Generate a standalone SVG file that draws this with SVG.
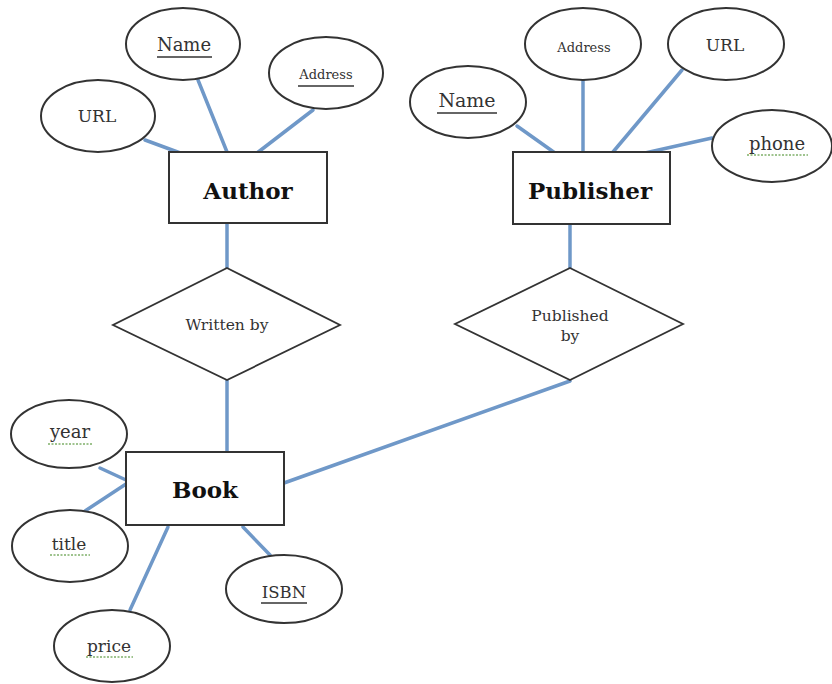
<svg xmlns="http://www.w3.org/2000/svg" width="832" height="684" viewBox="0 0 832 684">
<style>
  .conn { stroke: #6f98c8; stroke-width: 3.5; fill: none; stroke-linecap: round; }
  .shape { fill: #ffffff; stroke: #333333; stroke-width: 2; }
  .dia { fill: #ffffff; stroke: #333333; stroke-width: 1.8; }
  .ent { font-family: "DejaVu Serif", "Liberation Serif", serif; font-weight: bold; font-size: 23px; fill: #111111; text-anchor: middle; }
  .att { font-family: "DejaVu Serif", "Liberation Serif", serif; fill: #333333; text-anchor: middle; }
  .ul { stroke: #333333; stroke-width: 1.5; }
  .sq { stroke: #7fb069; stroke-width: 1.5; stroke-dasharray: 2 1.5; fill: none; }
</style>
<rect width="832" height="684" fill="#ffffff"/>
<g id="connectors">
  <line class="conn" x1="145" y1="140" x2="183" y2="154"/>
  <line class="conn" x1="198" y1="80" x2="227" y2="152"/>
  <line class="conn" x1="313" y1="110" x2="257" y2="153"/>
  <line class="conn" x1="227" y1="223" x2="227" y2="268"/>
  <line class="conn" x1="517" y1="126" x2="555" y2="153"/>
  <line class="conn" x1="583" y1="80" x2="583" y2="152"/>
  <line class="conn" x1="682" y1="70" x2="613" y2="152"/>
  <line class="conn" x1="712" y1="138" x2="645" y2="153"/>
  <line class="conn" x1="570" y1="224" x2="570" y2="268"/>
  <line class="conn" x1="227" y1="380" x2="227" y2="452"/>
  <line class="conn" x1="284" y1="483" x2="570" y2="381"/>
  <line class="conn" x1="100" y1="468" x2="126" y2="480"/>
  <line class="conn" x1="85" y1="511" x2="126" y2="484"/>
  <line class="conn" x1="130" y1="610" x2="168" y2="527"/>
  <line class="conn" x1="270" y1="555" x2="243" y2="527"/>
</g>
<g id="author">
  <rect class="shape" x="169" y="152" width="158" height="71"/>
  <text class="ent" x="248" y="199">Author</text>
</g>
<g id="author-name">
  <ellipse class="shape" cx="183" cy="44" rx="57" ry="36"/>
  <text class="att" x="184" y="51" font-size="18">Name</text>
  <line class="ul" x1="157" y1="57" x2="212" y2="57"/>
</g>
<g id="author-address">
  <ellipse class="shape" cx="326" cy="73" rx="57" ry="36"/>
  <text class="att" x="326" y="79" font-size="13">Address</text>
  <line class="ul" x1="298" y1="86" x2="354" y2="86"/>
</g>
<g id="author-url">
  <ellipse class="shape" cx="98" cy="116" rx="57" ry="36"/>
  <text class="att" x="97" y="122" font-size="17">URL</text>
</g>
<g id="publisher">
  <rect class="shape" x="513" y="152" width="157" height="72"/>
  <text class="ent" x="590" y="199">Publisher</text>
</g>
<g id="publisher-address">
  <ellipse class="shape" cx="583" cy="44" rx="58" ry="36"/>
  <text class="att" x="584" y="52" font-size="13">Address</text>
</g>
<g id="publisher-url">
  <ellipse class="shape" cx="726" cy="44" rx="58" ry="36"/>
  <text class="att" x="725" y="51" font-size="17">URL</text>
</g>
<g id="publisher-name">
  <ellipse class="shape" cx="468" cy="102" rx="58" ry="36"/>
  <text class="att" x="467" y="107" font-size="19">Name</text>
  <line class="ul" x1="437" y1="113" x2="497" y2="113"/>
</g>
<g id="publisher-phone">
  <ellipse class="shape" cx="772" cy="146" rx="60" ry="36"/>
  <text class="att" x="777" y="150" font-size="18">phone</text>
  <path class="sq" d="M747 155 L808 155"/>
</g>
<g id="written-by">
  <polygon class="dia" points="227,268 340,325 227,380 113,325"/>
  <text class="att" x="227" y="330" font-size="15.5">Written by</text>
</g>
<g id="published-by">
  <polygon class="dia" points="570,268 683,324 570,380 455,324"/>
  <text class="att" x="570" y="321" font-size="15.5">Published</text>
  <text class="att" x="570" y="341" font-size="15.5">by</text>
</g>
<g id="book">
  <rect class="shape" x="126" y="452" width="158" height="73"/>
  <text class="ent" x="205" y="498">Book</text>
</g>
<g id="book-year">
  <ellipse class="shape" cx="69" cy="434" rx="58" ry="34"/>
  <text class="att" x="70" y="438" font-size="18">year</text>
  <path class="sq" d="M48 444 L93 444"/>
</g>
<g id="book-title">
  <ellipse class="shape" cx="70" cy="546" rx="58" ry="36"/>
  <text class="att" x="69" y="550" font-size="17">title</text>
  <path class="sq" d="M50 555 L90 555"/>
</g>
<g id="book-isbn">
  <ellipse class="shape" cx="284" cy="589" rx="58" ry="34"/>
  <text class="att" x="284" y="598" font-size="16.5">ISBN</text>
  <line class="ul" x1="261" y1="603" x2="307" y2="603"/>
</g>
<g id="book-price">
  <ellipse class="shape" cx="112" cy="646" rx="58" ry="36"/>
  <text class="att" x="109" y="652" font-size="17">price</text>
  <path class="sq" d="M86 657 L133 657"/>
</g>
</svg>
